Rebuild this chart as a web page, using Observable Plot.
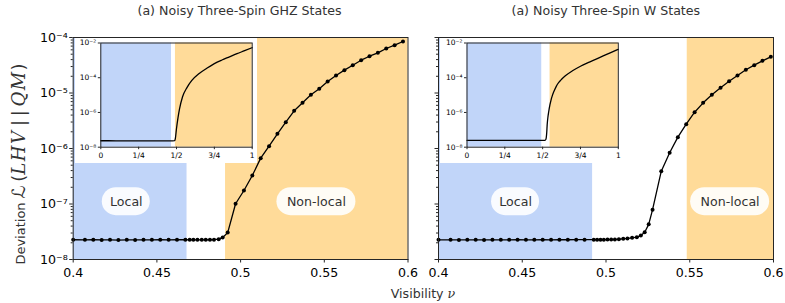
<!DOCTYPE html>
<html><head><meta charset="utf-8">
<script src="https://cdn.jsdelivr.net/npm/d3@7"></script>
<script src="https://cdn.jsdelivr.net/npm/@observablehq/plot@0.6"></script>
<style>
body{margin:0;background:#fff;}
#fig{position:relative;width:785px;height:303px;font-family:"DejaVu Sans",sans-serif;overflow:hidden;background:#fff;}
#fig svg{position:absolute;max-width:none;}
.lbl{position:absolute;white-space:nowrap;transform:translate(-50%,-50%);font-size:12.6px;color:#333;}
.m{font-family:"DejaVu Serif",serif;font-style:italic;}
</style></head><body><div id="fig"></div>
<script>
// ---------------- data ----------------
const titles = ["(a) Noisy Three-Spin GHZ States", "(a) Noisy Three-Spin W States"];

const ghzV = [0.4, 0.407, 0.412, 0.417, 0.422, 0.427, 0.432, 0.437, 0.442, 0.447, 0.452, 0.457, 0.462, 0.467,
  0.4696, 0.4718, 0.4742, 0.4768, 0.4792, 0.4817, 0.4841, 0.4869, 0.4893, 0.4923,
  0.497, 0.502, 0.507, 0.512, 0.517, 0.522, 0.527, 0.532, 0.537, 0.542, 0.547, 0.552, 0.557, 0.562,
  0.567, 0.572, 0.577, 0.582, 0.587, 0.592, 0.597];
const ghzD = [2.27e-8, 2.26e-8, 2.27e-8, 2.25e-8, 2.26e-8, 2.24e-8, 2.26e-8, 2.25e-8, 2.26e-8, 2.26e-8, 2.27e-8, 2.26e-8, 2.27e-8, 2.27e-8,
  2.26e-8, 2.26e-8, 2.26e-8, 2.26e-8, 2.26e-8, 2.27e-8, 2.28e-8, 2.32e-8, 2.5e-8, 3.05e-8,
  1.01e-7, 1.75e-7, 3.26e-7, 6.7e-7, 1.1e-6, 1.84e-6, 2.98e-6, 4.78e-6, 6.65e-6, 9.27e-6, 1.19e-5, 1.61e-5, 2.07e-5, 2.58e-5,
  3.17e-5, 3.9e-5, 4.6e-5, 5.3e-5, 6.34e-5, 7.26e-5, 8.47e-5];

const wV = [0.4, 0.4072, 0.4122, 0.4172, 0.4222, 0.4272, 0.4322, 0.4372, 0.4422, 0.4472, 0.4522, 0.4572, 0.4622, 0.4672,
  0.4722, 0.4772, 0.4822, 0.4872,
  0.4927, 0.4947, 0.4967, 0.4987, 0.5009, 0.5031, 0.5053, 0.5077, 0.5103, 0.5128, 0.5156, 0.5184, 0.5208, 0.5231, 0.5255, 0.5278,
  0.533, 0.538, 0.5429, 0.5479, 0.5529, 0.558, 0.5632, 0.5684, 0.5735, 0.5785, 0.5835, 0.5885, 0.5934, 0.5984];
const wD = [2.26e-8, 2.26e-8, 2.25e-8, 2.26e-8, 2.26e-8, 2.25e-8, 2.26e-8, 2.26e-8, 2.26e-8, 2.27e-8, 2.26e-8, 2.26e-8, 2.27e-8, 2.26e-8,
  2.27e-8, 2.27e-8, 2.28e-8, 2.28e-8,
  2.28e-8, 2.28e-8, 2.28e-8, 2.28e-8, 2.29e-8, 2.29e-8, 2.3e-8, 2.32e-8, 2.36e-8, 2.4e-8, 2.46e-8, 2.53e-8, 2.7e-8, 3.1e-8, 4.3e-8, 7.9e-8,
  3.9e-7, 8.4e-7, 1.6e-6, 2.74e-6, 4.5e-6, 6.65e-6, 9.3e-6, 1.24e-5, 1.63e-5, 2.07e-5, 2.62e-5, 3.17e-5, 3.8e-5, 4.49e-5];

const ghzInsetV = [0, 0.1, 0.2, 0.3, 0.4, 0.46, 0.488, 0.492, 0.5, 0.51, 0.52, 0.54, 0.57, 0.6,
  0.65, 0.7, 0.75, 0.8, 0.85, 0.9, 0.95, 1];
const ghzInsetD = [2.35e-8, 2.34e-8, 2.33e-8, 2.32e-8, 2.3e-8, 2.3e-8, 2.4e-8, 3.05e-8, 1.2e-7, 5e-7, 1.6e-6, 8e-6, 2.8e-5, 6.8e-5,
  1.75e-4, 3.5e-4, 6.5e-4, 1.05e-3, 1.6e-3, 2.45e-3, 3.6e-3, 5.4e-3];

const wInsetV = [0, 0.1, 0.2, 0.3, 0.4, 0.5, 0.515, 0.521, 0.524, 0.527, 0.53, 0.535, 0.54, 0.548, 0.555, 0.565, 0.575, 0.59, 0.6,
  0.62, 0.65, 0.7, 0.75, 0.8, 0.85, 0.9, 0.95, 1];
const wInsetD = [2.5e-8, 2.5e-8, 2.48e-8, 2.47e-8, 2.46e-8, 2.45e-8, 2.5e-8, 2.8e-8, 3.6e-8, 7e-8, 2e-7, 5.5e-7, 1.1e-6, 2.7e-6, 5e-6, 1e-5, 1.65e-5, 3.2e-5, 4.5e-5,
  7.3e-5, 1.3e-4, 2.6e-4, 4.6e-4, 7.4e-4, 1.15e-3, 1.8e-3, 2.8e-3, 4.3e-3];

const ghzLocal = [0.4, 0.468], ghzNonlocal = [0.491, 0.6];
const wLocal = [0.4, 0.492], wNonlocal = [0.5485, 0.6];
const ghzInsetLocal = [0, 0.467], ghzInsetNonlocal = [0.493, 1];
const wInsetLocal = [0, 0.494], wInsetNonlocal = [0.549, 1];

const labelText = ["Local", "Non-local"];
const ghzLabelX = [0.4317, 0.5453], wLabelX = [0.446, 0.5741];
const labelY = 1.1e-7;

const xTicks = [0.4, 0.45, 0.5, 0.55, 0.6];
const xTickLabels = ["0.4", "0.45", "0.5", "0.55", "0.6"];
const yTicks = [1e-8, 1e-7, 1e-6, 1e-5, 1e-4];
const yTickLabels = ["10\u207B\u2078", "10\u207B\u2077", "10\u207B\u2076", "10\u207B\u2075", "10\u207B\u2074"];
const insetXTicks = [0, 0.25, 0.5, 0.75, 1];
const insetXTickLabels = ["0", "1/4", "1/2", "3/4", "1"];
const insetYTicks = [1e-8, 1e-6, 1e-4, 1e-2];
const insetYTickLabels = ["10\u207B\u2078", "10\u207B\u2076", "10\u207B\u2074", "10\u207B\u00B2"];

// ---------------- drawing ----------------
const BLUE = "#c1d5f9", ORANGE = "#ffdb99", INK = "#262626";
const W = 785, H = 303, TOP = 37, BOTTOM = 259;
const fig = document.getElementById("fig");

const minorY = [];
for (let e = -8; e < -4; e++) for (let k = 2; k <= 9; k++) minorY.push(k * Math.pow(10, e));

function fmt(ticks, labels) { const m = new Map(ticks.map((t, i) => [t, labels[i]])); return d => m.get(d); }

function pill(x, y, w) {
  return Plot.rect([{x, y}], {x1: "x", x2: "x", y1: "y", y2: "y",
    insetLeft: -w / 2, insetRight: -w / 2, insetTop: -14, insetBottom: -14, rx: 14,
    fill: "white", fillOpacity: 0.9});
}

function mainPanel(v, d, local, nonlocal, labelX, showY, left, right) {
  const rows = v.map((x, i) => ({v: x, d: d[i]}));
  const svg = Plot.plot({
    width: W, height: H,
    marginLeft: left, marginRight: W - right, marginTop: TOP, marginBottom: H - BOTTOM,
    style: {background: "transparent", fontFamily: "DejaVu Sans", fontSize: "12.6px", color: "#000", overflow: "visible"},
    x: {domain: [0.4, 0.6], label: null},
    y: {type: "log", domain: [1e-8, 1e-4], label: null},
    marks: [
      Plot.rect([{a: local[0], b: local[1]}], {x1: "a", x2: "b", fill: BLUE}),
      Plot.rect([{a: nonlocal[0], b: nonlocal[1]}], {x1: "a", x2: "b", fill: ORANGE}),
      pill(labelX[0], labelY, 48),
      pill(labelX[1], labelY, 79),
      Plot.text(labelText.map((t, i) => ({t, x: labelX[i], y: labelY})), {x: "x", y: "y", text: "t", fill: "#333", fontSize: 12.6}),
      Plot.line(rows, {x: "v", y: "d", stroke: "black", strokeWidth: 1.3}),
      Plot.dot(rows, {x: "v", y: "d", r: 2, fill: "black", stroke: null}),
      Plot.axisX(xTicks, {tickSize: 3.5, tickPadding: 5, stroke: INK, tickFormat: fmt(xTicks, xTickLabels)}),
      Plot.axisY(yTicks, {tickSize: 3.5, tickPadding: 2, stroke: INK, tickFormat: showY ? fmt(yTicks, yTickLabels) : () => ""}),
      Plot.axisY(minorY, {tickSize: 2, stroke: INK, tickFormat: () => ""}),
      Plot.frame({stroke: INK, strokeWidth: 1})
    ]
  });
  svg.style.left = "0px"; svg.style.top = "0px";
  fig.appendChild(svg);
}

function insetPanel(v, d, local, nonlocal, boxLeft, frameLeft, frameRight) {
  const rows = v.map((x, i) => ({v: x, d: d[i]}));
  const bw = 182, bh = 125, bt = TOP + 1;
  const svg = Plot.plot({
    width: bw, height: bh,
    marginLeft: frameLeft - boxLeft, marginRight: boxLeft + bw - frameRight, marginTop: 4.5, marginBottom: 16.3,
    style: {background: "white", fontFamily: "DejaVu Sans", fontSize: "7.5px", color: "#000", overflow: "visible"},
    x: {domain: [0, 1], label: null},
    y: {type: "log", domain: [1e-8, 1e-2], label: null},
    marks: [
      Plot.rect([{a: local[0], b: local[1]}], {x1: "a", x2: "b", fill: BLUE}),
      Plot.rect([{a: nonlocal[0], b: nonlocal[1]}], {x1: "a", x2: "b", fill: ORANGE}),
      Plot.line(rows, {x: "v", y: "d", stroke: "black", strokeWidth: 1.3, curve: "monotone-x"}),
      Plot.axisX(insetXTicks, {tickSize: 2.5, tickPadding: 2.5, stroke: INK, tickFormat: fmt(insetXTicks, insetXTickLabels)}),
      Plot.axisY(insetYTicks, {tickSize: 2.5, tickPadding: 2, stroke: INK, tickFormat: fmt(insetYTicks, insetYTickLabels)}),
      Plot.frame({stroke: INK, strokeWidth: 1})
    ]
  });
  svg.style.left = boxLeft + "px"; svg.style.top = bt + "px";
  fig.appendChild(svg);
}

mainPanel(ghzV, ghzD, ghzLocal, ghzNonlocal, ghzLabelX, true, 72.7, 407.5);
mainPanel(wV, wD, wLocal, wNonlocal, wLabelX, false, 438, 773);
insetPanel(ghzInsetV, ghzInsetD, ghzInsetLocal, ghzInsetNonlocal, 75, 100.3, 251.7);
insetPanel(wInsetV, wInsetD, wInsetLocal, wInsetNonlocal, 439.5, 466, 617.3);

function addLabel(html, x, y, extra) {
  const el = document.createElement("div");
  el.className = "lbl"; el.innerHTML = html;
  el.style.left = x + "px"; el.style.top = y + "px";
  if (extra) Object.assign(el.style, extra);
  fig.appendChild(el);
}
addLabel(titles[0], 239.5, 9.5);
addLabel(titles[1], 605.8, 9.5);
addLabel('Visibility <span class="m">\u03BD</span>', 423, 292.5);
addLabel('Deviation <span style="font-size:18px">\u2112\u2009(<span class="m" style="letter-spacing:1.5px">LHV</span>\u2009|\u2009|\u2009<span class="m" style="letter-spacing:1.5px">QM</span>)</span>', 18, 163.5,
  {transform: "translate(-50%,-50%) rotate(-90deg)", fontSize: "13px"});
</script></body></html>
